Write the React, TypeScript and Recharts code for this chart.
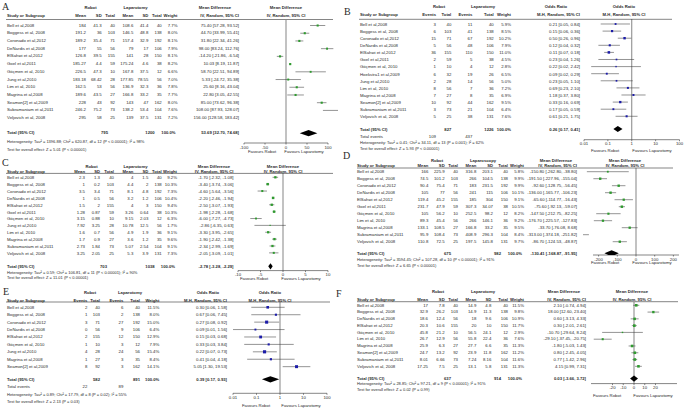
import React from 'react';
import { ScatterChart, Scatter, XAxis, YAxis, ErrorBar, ReferenceLine } from 'recharts';

const FONT = '"Liberation Sans", Arial, sans-serif';
const FS = 4.3;
const FS_HEAD = 4.2;
const FS_STAT = 4.0;
const INK = '#2a2a2a';
const GREEN = '#2f9a2f';
const BLUE = '#1c1ca8';

// ---------------- Panel A ----------------
const studiesA = ['Bell et al,2008', 'Boggess et al, 2008', 'Coronado et al,2012', 'DeNardis et al,2008', 'ElSahwi et al,2012', 'Goel et al,2011', 'Göçmen et al, 2010', 'Jung et al,2010', 'Lim et al, 2010', 'Magrina et al,2008', 'Seamon[2] et al,2009', 'Subramaniam et al,2011', 'Veljovich et al, 2008'];
const robotMeanA = [184, 191.2, 189.2, 177, 126.8, 185.27, 226.5, 183.18, 162.5, 189.6, 228, 246.2, 295];
const robotSdA = [41.3, 36, 35.4, 55, 39.5, 4.4, 47.3, 68.42, 53, 43.5, 43, 75.2, 58];
const robotNA = [40, 103, 71, 56, 155, 59, 10, 28, 56, 27, 92, 73, 25];
const lapMeanA = [108.6, 146.5, 157.4, 79, 141, 175.24, 167.8, 177.85, 136.9, 166.8, 143, 138.2, 139];
const lapSdA = [41.4, 48.8, 32.9, 17, 28, 4.6, 37.5, 78.55, 32.3, 33.2, 47, 53.4, 37.5];
const lapNA = [40, 138, 192, 106, 150, 38, 12, 56, 36, 35, 162, 104, 131];
const weightA = [7.7, 8.0, 8.1, 7.9, 8.1, 8.2, 6.6, 7.0, 7.8, 7.7, 8.0, 7.6, 7.2];
const mdA = [75.4, 44.7, 31.8, 98, -14.2, 10.03, 58.7, 5.33, 25.6, 22.8, 85, 108, 156];
const loA = [57.28, 33.99, 22.34, 83.24, -21.86, 8.19, 22.51, -24.72, 8.16, 3.05, 73.62, 87.93, 128.58];
const hiA = [93.52, 55.41, 41.26, 112.76, -6.54, 11.87, 94.89, 35.38, 43.04, 42.55, 96.38, 128.07, 183.42];
const totalA = [53.69, 32.7, 74.68];
const statsA = ['Heterogeneity: Tau² = 1396.88; Chi² = 620.87, df = 12 (P < 0.00001); I² = 98%', 'Test for overall effect: Z = 5.01 (P < 0.00001)'];

// ---------------- Panel B ----------------
const studiesB = ['Bell et al,2008', 'Boggess et al, 2008', 'Coronado et al,2012', 'DeNardis et al,2008', 'ElSahwi et al,2012', 'Goel et al,2011', 'Göçmen et al, 2010', 'Hoekstra1 et al,2009', 'Jung et al,2010', 'Lim et al, 2010', 'Magrina  et al,2008', 'Seamon[2] et al,2009', 'Subramaniam et al,2011', 'Veljovich et al, 2008'];
const eventsRB = [3, 6, 15, 5, 36, 2, 1, 6, 2, 8, 7, 10, 3, 5];
const totalRB = [40, 103, 71, 56, 155, 59, 10, 32, 28, 56, 27, 92, 73, 25];
const eventsLB = [11, 41, 67, 48, 110, 5, 4, 19, 14, 7, 8, 44, 21, 38];
const totalLB = [40, 138, 192, 106, 150, 38, 12, 26, 56, 36, 35, 162, 104, 131];
const weightB = [5.9, 8.5, 10.2, 7.9, 11.0, 4.5, 2.8, 6.5, 5.0, 7.2, 6.9, 9.5, 6.4, 7.6];
const orB = [0.21, 0.15, 0.5, 0.12, 0.11, 0.23, 0.22, 0.09, 0.23, 0.69, 1.18, 0.33, 0.17, 0.61];
const loB = [0.05, 0.06, 0.26, 0.04, 0.07, 0.04, 0.02, 0.02, 0.05, 0.23, 0.37, 0.16, 0.05, 0.21];
const hiB = [0.84, 0.36, 0.96, 0.32, 0.18, 1.26, 2.42, 0.29, 1.1, 2.1, 3.8, 0.69, 0.59, 1.75];
const totalB = [0.26, 0.17, 0.41];
const statsB = ['Heterogeneity: Tau² = 0.41; Chi² = 34.11, df = 13 (P = 0.001); I² = 62%', 'Test for overall effect: Z = 5.93 (P < 0.00001)'];

// ---------------- Panel C ----------------
const studiesC = ['Bell et al,2008', 'Boggess et al, 2008', 'Coronado et al,2012', 'DeNardis et al,2008', 'ElSahwi et al,2012', 'Goel et al,2011', 'Göçmen et al, 2010', 'Jung et al,2010', 'Lim et al, 2010', 'Magrina  et al,2008', 'Subramaniam et al,2011', 'Veljovich et al, 2008'];
const robotMeanC = [2.3, 1, 3.5, 1, 1.5, 1.28, 3.15, 7.92, 1.6, 1.7, 2.73, 3.25];
const robotSdC = [1.3, 0.2, 3.4, 0.5, 2, 0.87, 0.88, 3.25, 0.7, 0.9, 1.84, 2.05];
const robotNC = [40, 103, 71, 56, 155, 59, 10, 28, 56, 27, 73, 25];
const lapMeanC = [4, 4.4, 8.1, 3.2, 4, 3.26, 9.15, 10.78, 4.9, 3.6, 5.07, 5.3];
const lapSdC = [1.5, 2, 4.8, 1.2, 3, 0.64, 2.03, 12.5, 1.9, 1.2, 2.54, 3.9];
const lapNC = [40, 138, 192, 106, 150, 38, 12, 56, 36, 35, 104, 131];
const weightC = [9.2, 10.3, 7.3, 10.4, 9.4, 10.3, 6.3, 1.7, 9.1, 9.6, 9.1, 7.3];
const mdC = [-1.7, -3.4, -4.6, -2.2, -2.5, -1.98, -6, -2.86, -3.3, -1.9, -2.34, -2.05];
const loC = [-2.32, -3.74, -5.64, -2.46, -3.07, -2.28, -7.27, -6.35, -3.95, -2.42, -2.99, -3.09];
const hiC = [-1.08, -3.06, -3.56, -1.94, -1.93, -1.68, -4.73, 0.63, -2.65, -1.38, -1.69, -1.01];
const totalC = [-2.78, -3.28, -2.29];
const statsC = ['Heterogeneity: Tau² = 0.59; Chi² = 106.81, df = 11 (P < 0.00001); I² = 90%', 'Test for overall effect: Z = 11.01 (P < 0.00001)'];

// ---------------- Panel D ----------------
const studiesD = ['Bell et al,2008', 'Boggess et al, 2008', 'Coronado et al,2012', 'DeNardis et al,2008', 'ElSahwi et al,2012', 'Goel et al,2011', 'Göçmen et al, 2010', 'Lim et al, 2010', 'Magrina  et al,2008', 'Subramaniam et al,2011', 'Veljovich et al, 2008'];
const robotMeanD = [166, 74.5, 90.4, 105, 119.4, 231.7, 105, 89.3, 133.1, 95.9, 110.8];
const robotSdD = [225.9, 101.2, 75.4, 77, 45.2, 47.9, 56.2, 45.4, 108.5, 108.4, 72.5];
const robotND = [40, 103, 71, 56, 155, 59, 10, 56, 27, 73, 25];
const lapMeanD = [316.8, 266, 183, 241, 185, 307.3, 252.5, 266, 166.8, 408.9, 197.5];
const lapSdD = [203.1, 104.5, 231.5, 115, 304, 34.07, 98.2, 146.1, 33.2, 296.3, 145.8];
const lapND = [40, 138, 192, 106, 150, 38, 12, 36, 35, 104, 131];
const weightD = [5.8, 9.9, 9.9, 10.1, 9.1, 10.5, 8.2, 9.2, 9.5, 8.4, 9.7];
const mdD = [-150.8, -191.5, -92.6, -136, -65.6, -75.6, -147.5, -176.7, -33.7, -313, -86.7];
const loD = [-262.8, -227.96, -128.75, -165.77, -114.77, -92.13, -212.75, -225.57, -76.08, -374.18, -124.53];
const hiD = [-38.8, -155.04, -56.45, -106.23, -16.43, -59.07, -82.25, -127.83, 8.68, -251.82, -48.87];
const totalD = [-130.41, -168.87, -91.95];
const statsD = ['Heterogeneity: Tau² = 3594.45; Chi² = 107.28, df = 10 (P < 0.00001); I² = 91%', 'Test for overall effect: Z = 6.65 (P < 0.00001)'];

// ---------------- Panel E ----------------
const studiesE = ['Bell et al,2008', 'Boggess et al, 2008', 'Coronado et al,2012', 'DeNardis et al,2008', 'ElSahwi et al,2012', 'Göçmen et al, 2010', 'Jung et al,2010', 'Magrina  et al,2008', 'Seamon[2] et al,2009'];
const eventsRE = [2, 1, 3, 0, 2, 1, 4, 1, 8];
const totalRE = [40, 103, 71, 56, 155, 10, 28, 27, 92];
const eventsLE = [6, 2, 27, 9, 12, 3, 24, 3, 3];
const totalLE = [40, 138, 192, 106, 150, 12, 56, 35, 162];
const weightE = [11.5, 8.0, 15.0, 6.4, 12.9, 7.9, 15.4, 8.4, 14.1];
const orE = [0.3, 0.67, 0.27, 0.09, 0.15, 0.33, 0.22, 0.41, 5.05];
const loE = [0.06, 0.06, 0.08, 0.01, 0.03, 0.03, 0.07, 0.04, 1.3];
const hiE = [1.58, 7.45, 0.92, 1.56, 0.68, 3.84, 0.73, 4.18, 19.53];
const totalE = [0.39, 0.17, 0.93];
const statsE = ['Heterogeneity: Tau² = 0.89; Chi² = 17.79, df = 8 (P = 0.02); I² = 55%', 'Test for overall effect: Z = 2.13 (P = 0.03)'];

// ---------------- Panel F ----------------
const studiesF = ['Bell et al,2008', 'Boggess et al, 2008', 'DeNardis et al,2008', 'ElSahwi et al,2012', 'Göçmen et al, 2010', 'Lim et al, 2010', 'Magrina  et al,2008', 'Seamon[2] et al,2009', 'Subramaniam et al,2011', 'Veljovich et al, 2008'];
const robotMeanF = [17, 32.9, 18.6, 20.3, 45.8, 26.7, 25.9, 24.7, 8.01, 17.25];
const robotSdF = [7.8, 26.2, 12.4, 10.6, 21.2, 12.9, 6.3, 13.2, 6.66, 7.5];
const robotNF = [40, 103, 56, 155, 10, 56, 27, 92, 73, 25];
const lapMeanF = [14.9, 14.9, 18, 20, 56.5, 55.8, 27.7, 23.9, 7.24, 13.1];
const lapSdF = [4.8, 11.3, 9.6, 10, 24.1, 22.4, 6.6, 11.8, 8.16, 5.8];
const lapNF = [40, 138, 106, 150, 12, 36, 35, 162, 104, 131];
const weightF = [11.5, 9.8, 10.9, 11.7, 2.9, 7.6, 11.3, 11.2, 11.6, 11.3];
const mdF = [2.1, 18, 0.6, 0.3, -10.7, -29.1, -1.8, 0.8, 0.77, 4.15];
const loF = [-0.74, 12.6, -3.13, -2.01, -29.64, -37.45, -5.03, -2.45, -1.42, 0.99];
const hiF = [4.94, 23.4, 4.33, 2.61, 8.24, -20.75, 1.43, 4.05, 2.96, 7.31];
const totalF = [0.03, -3.66, 3.72];
const statsF = ['Heterogeneity: Tau² = 28.85; Chi² = 97.21, df = 9 (P < 0.00001); I² = 91%', 'Test for overall effect: Z = 0.02 (P = 0.99)'];

// ---------------- helpers ----------------
const sum = (a: number[]) => a.reduce((s, v) => s + v, 0);
const fmtCI = (e: number, l: number, h: number) => `${e.toFixed(2)} [${l.toFixed(2)}, ${h.toFixed(2)}]`;
const str = (a: number[]) => a.map((v) => String(v));
const pct = (a: number[]) => a.map((v) => v.toFixed(1) + '%');
const cis = (e: number[], l: number[], h: number[]) => e.map((v, i) => fmtCI(v, l[i], h[i]));

const MD_HEADS = ['Mean', 'SD', 'Total', 'Mean', 'SD', 'Total', 'Weight', 'IV, Random, 95% CI'];
const OR_HEADS = ['Events', 'Total', 'Events', 'Total', 'Weight', 'M-H, Random, 95% CI'];
const MD_TOT_OFF = [0, 0, -7, 0, 0, -7, -2, 0];

type PanelData = {
  names: string[]; cells: string[][]; est: number[]; lo: number[]; hi: number[]; wt: number[];
  totalCells: string[]; eventsCells?: string[]; total: number[]; stats: string[];
};

function mdData(names: string[], rm: number[], rs: number[], rn: number[], lm: number[], ls: number[], ln: number[], w: number[], e: number[], l: number[], h: number[], t: number[], stats: string[]): PanelData {
  return {
    names, est: e, lo: l, hi: h, wt: w, total: t, stats,
    cells: [str(rm), str(rs), str(rn), str(lm), str(ls), str(ln), pct(w), cis(e, l, h)],
    totalCells: ['', '', String(sum(rn)), '', '', String(sum(ln)), '100.0%', fmtCI(t[0], t[1], t[2])],
  };
}
function orData(names: string[], re: number[], rn: number[], le: number[], ln: number[], w: number[], e: number[], l: number[], h: number[], t: number[], stats: string[]): PanelData {
  return {
    names, est: e, lo: l, hi: h, wt: w, total: t, stats,
    cells: [str(re), str(rn), str(le), str(ln), pct(w), cis(e, l, h)],
    totalCells: ['', String(sum(rn)), '', String(sum(ln)), '100.0%', fmtCI(t[0], t[1], t[2])],
    eventsCells: [String(sum(re)), '', String(sum(le)), '', '', ''],
  };
}

type PlotLayout = {
  left: number; right: number; axisY: number; domain: [number, number]; ticks: number[]; log: boolean; ref: number;
  favY: number; favL: number; favR: number; hx: number; color: string; title: string; sub: string;
};
type Layout = {
  letter: string; lx: number; ly: number; h1y: number; h2y: number; lineY: number; lineL: number; lineR: number;
  nameX: number; cols: number[]; heads: string[]; y0: number; step: number; totalY: number; eventsY?: number;
  totOff?: number[]; statY: number[]; groups: [string, number][]; plot: PlotLayout;
};

const layA: Layout = {
  letter: 'A', lx: 2, ly: 10, h1y: 7.5, h2y: 15, lineY: 19.5, lineL: 6, lineR: 333,
  nameX: 7, cols: [86, 101.7, 115, 133.3, 148.3, 161.7, 177.5, 239], heads: MD_HEADS, totOff: MD_TOT_OFF,
  y0: 25, step: 7.72, totalY: 132.7, statY: [141.5, 149],
  groups: [['Robot', 90.5], ['Laparotomy', 135.5], ['Mean Difference', 215]],
  plot: { left: 244, right: 328, axisY: 142.5, domain: [-100, 100], ticks: [-100, -50, 0, 50, 100], log: false, ref: 0,
    favY: 151.5, favL: 262, favR: 304, hx: 286, color: GREEN, title: 'Mean Difference', sub: 'IV, Random, 95% CI' },
};
const layB: Layout = {
  letter: 'B', lx: 344, ly: 15, h1y: 6.7, h2y: 14, lineY: 19.3, lineL: 359, lineR: 672,
  nameX: 360, cols: [436, 451.3, 472.3, 493.7, 511, 580], heads: OR_HEADS,
  y0: 24.3, step: 7.1, totalY: 129.3, eventsY: 136, statY: [142.3, 148.8],
  groups: [['Robot', 439], ['Laparotomy', 483], ['Odds Ratio', 556]],
  plot: { left: 584, right: 679.5, axisY: 140, domain: [0.01, 100], ticks: [0.01, 0.1, 1, 10, 100], log: true, ref: 1,
    favY: 150, favL: 605, favR: 652, hx: 624, color: BLUE, title: 'Odds Ratio', sub: 'M-H, Random, 95% CI' },
};
const layC: Layout = {
  letter: 'C', lx: 2, ly: 166, h1y: 166.7, h2y: 171.3, lineY: 173.4, lineL: 6, lineR: 333,
  nameX: 7, cols: [85, 100, 114, 133.3, 148.3, 161.7, 177, 233.5], heads: MD_HEADS, totOff: MD_TOT_OFF,
  y0: 177.7, step: 6.87, totalY: 266.7, statY: [272.3, 277.3],
  groups: [['Robot', 91.5], ['Laparotomy', 135.5], ['Mean Difference', 214]],
  plot: { left: 238, right: 328, axisY: 271, domain: [-10, 10], ticks: [-10, -5, 0, 5, 10], log: false, ref: 0,
    favY: 278.7, favL: 254, favR: 301, hx: 283, color: GREEN, title: 'Mean Difference', sub: 'IV, Random, 95% CI' },
};
const layD: Layout = {
  letter: 'D', lx: 343, ly: 158.5, h1y: 160, h2y: 165.7, lineY: 168, lineL: 357, lineR: 673,
  nameX: 357, cols: [428.3, 444.7, 458, 476.3, 493, 508, 524, 577], heads: MD_HEADS, totOff: MD_TOT_OFF,
  y0: 171.7, step: 7.0, totalY: 253.3, statY: [259, 265],
  groups: [['Robot', 437], ['Laparoscopy', 483], ['Mean Difference', 556]],
  plot: { left: 593, right: 679, axisY: 255, domain: [-230, 230], ticks: [-200, -100, 0, 100, 200], log: false, ref: 0,
    favY: 262.5, favL: 605, favR: 652, hx: 625, color: GREEN, title: 'Mean Difference', sub: 'IV, Random, 95% CI' },
};
const layE: Layout = {
  letter: 'E', lx: 3, ly: 295, h1y: 292.7, h2y: 300, lineY: 302, lineL: 6, lineR: 330,
  nameX: 7, cols: [87.3, 100, 123.3, 140, 159.3, 227], heads: OR_HEADS,
  y0: 307.3, step: 7.42, totalY: 379.3, eventsY: 386.7, statY: [394.3, 401.7],
  groups: [['Robot', 90], ['Laparotomy', 130], ['Odds Ratio', 208]],
  plot: { left: 232.5, right: 326.5, axisY: 393.3, domain: [0.01, 100], ticks: [0.01, 0.1, 1, 10, 100], log: true, ref: 1,
    favY: 405, favL: 256, favR: 301, hx: 270, color: BLUE, title: 'Odds Ratio', sub: 'M-H, Random, 95% CI' },
};
const layF: Layout = {
  letter: 'F', lx: 336, ly: 296.5, h1y: 291.7, h2y: 299.3, lineY: 301.7, lineL: 357, lineR: 678,
  nameX: 357, cols: [428, 444.7, 458, 476.3, 491.3, 508, 524, 586], heads: MD_HEADS, totOff: MD_TOT_OFF,
  y0: 305, step: 6.78, totalY: 378.3, statY: [383.3, 389.3],
  groups: [['Robot', 438], ['Laparotomy', 483], ['Mean Difference', 564]],
  plot: { left: 591, right: 677, axisY: 383.3, domain: [-40, 40], ticks: [-20, -10, 0, 10, 20], log: false, ref: 0,
    favY: 395, favL: 607, favR: 653, hx: 632, color: GREEN, title: 'Mean Difference', sub: 'IV, Random, 95% CI' },
};

function txt(key: string, x: number, y: number, s: string, anchor: 'start' | 'middle' | 'end' = 'start', bold = false, size = FS) {
  return (
    <text key={key} x={x} y={y} textAnchor={anchor} dominantBaseline="central" fontSize={size}
      fontWeight={bold ? 700 : 400} fill={INK} fontFamily={FONT}>{s}</text>
  );
}

function TableText({ lay, d, id }: { lay: Layout; d: PanelData; id: string }) {
  const out: React.ReactNode[] = [];
  const p = lay.plot;
  const off = lay.totOff || [];
  out.push(<text key="letter" x={lay.lx} y={lay.ly} fontFamily='"Liberation Serif", "Times New Roman", serif' fontSize={10} fill={INK}>{lay.letter}</text>);
  lay.groups.forEach(([s, x], i) => out.push(txt('g' + i, x, lay.h1y, s, 'middle', true, FS_HEAD)));
  out.push(txt('pt', p.hx, lay.h1y, p.title, 'middle', true, FS_HEAD));
  out.push(txt('sh', lay.nameX, lay.h2y, 'Study or Subgroup', 'start', true, FS_HEAD));
  lay.heads.forEach((s, i) => out.push(txt('h' + i, lay.cols[i], lay.h2y, s, 'end', true, FS_HEAD)));
  out.push(txt('ps', p.hx, lay.h2y, p.sub, 'middle', true, FS_HEAD));
  out.push(<line key="hl" x1={lay.lineL} x2={lay.lineR} y1={lay.lineY} y2={lay.lineY} stroke="#333" strokeWidth={0.6} />);
  d.names.forEach((nm, r) => {
    const y = lay.y0 + r * lay.step;
    out.push(txt(`n${r}`, lay.nameX, y, nm));
    d.cells.forEach((col, c) => out.push(txt(`c${r}_${c}`, lay.cols[c], y, col[r], 'end')));
  });
  out.push(txt('tl', lay.nameX, lay.totalY, 'Total (95% CI)', 'start', true, FS_HEAD));
  d.totalCells.forEach((s, c) => { if (s) out.push(txt('tc' + c, lay.cols[c] + (off[c] || 0), lay.totalY, s, 'end', true, FS_HEAD)); });
  if (d.eventsCells && lay.eventsY !== undefined) {
    out.push(txt('el', lay.nameX, lay.eventsY, 'Total events'));
    d.eventsCells.forEach((s, c) => { if (s) out.push(txt('ec' + c, lay.cols[c], lay.eventsY as number, s, 'end')); });
  }
  d.stats.forEach((s, i) => out.push(txt('st' + i, lay.nameX, lay.statY[i], s, 'start', false, FS_STAT)));
  out.push(txt('fl', p.favL, p.favY, 'Favours Robot', 'middle'));
  out.push(txt('fr', p.favR, p.favY, 'Favours Laparotomy', 'middle'));
  return <g key={id}>{out}</g>;
}

function Forest({ lay, d }: { lay: Layout; d: PanelData }) {
  const p = lay.plot;
  const pad = 10;
  const axisH = 9;
  const w = p.right - p.left + 2 * pad;
  const h = p.axisY - lay.lineY + axisH;
  const yMin = 1 - (lay.y0 - lay.lineY) / lay.step;
  const yMax = 1 + (p.axisY - lay.y0) / lay.step;
  const tIdx = 1 + (lay.totalY - lay.y0) / lay.step;
  const pts = d.est.map((e, i) => ({ x: e, y: i + 1, err: [e - d.lo[i], d.hi[i] - e], w: d.wt[i] }));
  const dia = [{ x: d.total[1], y: tIdx }, { x: d.total[0], y: tIdx }, { x: d.total[2], y: tIdx }];
  const square = (props: any) => {
    const s = 1 + props.payload.w * 0.14;
    return <rect x={props.cx - s / 2} y={props.cy - s / 2} width={s} height={s} fill={p.color} />;
  };
  const diamondLine = (props: any) => {
    const q = props.points;
    if (!q || q.length < 3) return <g />;
    const hh = 3.1;
    return (
      <polygon points={`${q[0].x},${q[0].y} ${q[1].x},${q[1].y - hh} ${q[2].x},${q[2].y} ${q[1].x},${q[1].y + hh}`} fill="#000" />
    );
  };
  return (
    <div style={{ position: 'absolute', left: p.left - pad, top: lay.lineY, width: w, height: h }}>
      <ScatterChart width={w} height={h} margin={{ top: 0, right: pad, bottom: 0, left: pad }}>
        <XAxis type="number" dataKey="x" domain={p.domain} ticks={p.ticks} scale={p.log ? 'log' : 'linear'}
          allowDataOverflow interval={0} height={axisH} tickSize={1.5} tickMargin={1}
          tick={{ fontSize: FS, fill: INK, fontFamily: FONT }}
          axisLine={{ stroke: '#333', strokeWidth: 0.6 }} tickLine={{ stroke: '#333', strokeWidth: 0.6 }}
          tickFormatter={(v: number) => String(v)} />
        <YAxis type="number" dataKey="y" hide domain={[yMin, yMax]} reversed allowDataOverflow />
        <ReferenceLine x={p.ref} stroke="#333" strokeWidth={0.6} />
        <Scatter data={pts} isAnimationActive={false} shape={square}>
          <ErrorBar dataKey="err" direction="x" width={0} stroke="#3a3a3a" strokeWidth={0.55} isAnimationActive={false} />
        </Scatter>
        <Scatter data={dia} isAnimationActive={false} shape={() => <g />} line={diamondLine} fill="#000" />
      </ScatterChart>
    </div>
  );
}

const dataA = mdData(studiesA, robotMeanA, robotSdA, robotNA, lapMeanA, lapSdA, lapNA, weightA, mdA, loA, hiA, totalA, statsA);
const dataB = orData(studiesB, eventsRB, totalRB, eventsLB, totalLB, weightB, orB, loB, hiB, totalB, statsB);
const dataC = mdData(studiesC, robotMeanC, robotSdC, robotNC, lapMeanC, lapSdC, lapNC, weightC, mdC, loC, hiC, totalC, statsC);
const dataD = mdData(studiesD, robotMeanD, robotSdD, robotND, lapMeanD, lapSdD, lapND, weightD, mdD, loD, hiD, totalD, statsD);
const dataE = orData(studiesE, eventsRE, totalRE, eventsLE, totalLE, weightE, orE, loE, hiE, totalE, statsE);
const dataF = mdData(studiesF, robotMeanF, robotSdF, robotNF, lapMeanF, lapSdF, lapNF, weightF, mdF, loF, hiF, totalF, statsF);

const PANELS: { lay: Layout; d: PanelData }[] = [
  { lay: layA, d: dataA }, { lay: layB, d: dataB }, { lay: layC, d: dataC },
  { lay: layD, d: dataD }, { lay: layE, d: dataE }, { lay: layF, d: dataF },
];

export default function App() {
  return (
    <div style={{ position: 'absolute', left: 0, top: 0, width: 686, height: 413, overflow: 'hidden', background: '#fff' }}>
      <svg width={686} height={413} style={{ position: 'absolute', left: 0, top: 0 }}>
        {PANELS.map((pn, i) => <TableText key={i} id={'p' + i} lay={pn.lay} d={pn.d} />)}
      </svg>
      {PANELS.map((pn, i) => <Forest key={i} lay={pn.lay} d={pn.d} />)}
    </div>
  );
}
